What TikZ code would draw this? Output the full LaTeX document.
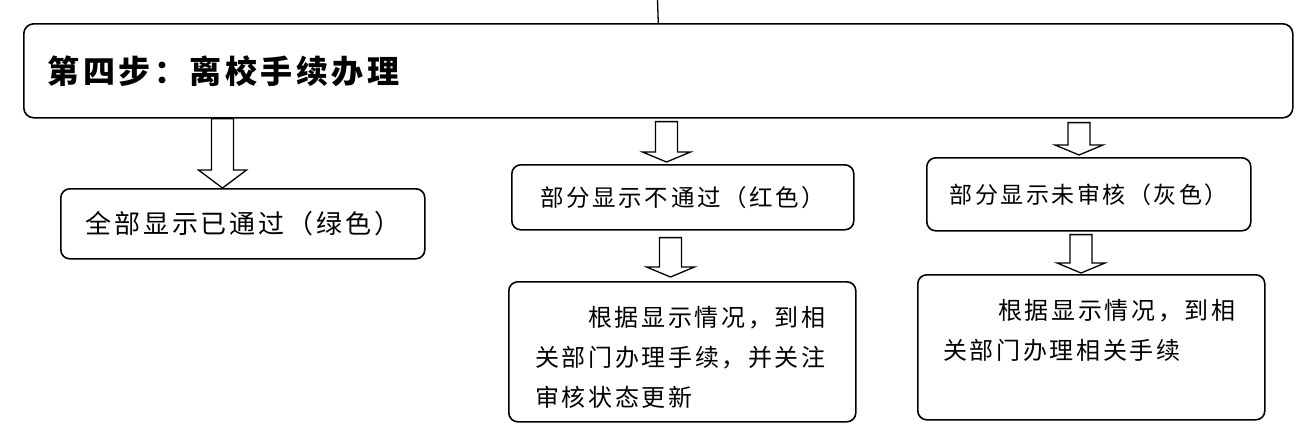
\documentclass[tikz,border=0pt]{standalone}
\usepackage{fontspec}
\newfontfamily\cjk[LetterSpace=11]{Noto Sans CJK SC}
\usepackage{tikz}
\usetikzlibrary{calc,positioning}
\tikzset{
  stepbox/.style={draw, line width=1.6pt, rounded corners=10pt, inner sep=0pt,
  align=left, font=\cjk\bfseries\fontsize{32}{36}\selectfont},
  panel/.style={draw, line width=1.6pt, rounded corners=9pt, inner sep=0pt,
  anchor=north west},
  note/.style={align=left, inner sep=0pt, anchor=north west,
  font=\cjk\fontsize{24}{40}\selectfont},
  hollow/.style={draw, line width=1.3pt, fill=white, line join=miter}
}
\newcommand{\blockdown}[3][10pt]{%
  \draw[hollow] let \p1=#2, \p2=#3 in
    (\x1-11pt,\y1) -- (\x1+11pt,\y1) -- (\x1+11pt,\y2+#1) -- (\x1+24pt,\y2+#1)
    -- (\x1,\y2) -- (\x1-24pt,\y2+#1) -- (\x1-11pt,\y2+#1) -- cycle;}
\begin{document}
\begin{tikzpicture}[x=1pt,y=-1pt]
\useasboundingbox (0,0) rectangle (1310,445);
% step box and results
\node[stepbox, anchor=north west, minimum width=1269, minimum height=94,
  text width=1221] (step) at (23,23) {第四步：离校手续办理};
\node[panel, minimum width=364, minimum height=70,
  font=\cjk\fontsize{26}{30}\selectfont] (all) at (60,188) {全部显示已通过（绿色）};
\node[panel, minimum width=342, minimum height=65,
  font=\cjk\fontsize{23.5}{28}\selectfont] (fail) at (511,164) {部分显示不通过（红色）};
\node[panel, minimum width=324, minimum height=73,
  font=\cjk\fontsize{23}{28}\selectfont] (pending) at (926,157) {部分显示未审核（灰色）};
\node[panel, minimum width=347, minimum height=140] (fix) at (508,281) {};
\node[panel, minimum width=347, minimum height=145] (follow) at (917,274) {};
\node[note] (fixnote) at ($(fix.north west)+(27,25)$)
  {\hspace*{53pt}根据显示情况，到相\\关部门办理手续，并关注\\审核状态更新};
\node[note] (follownote) at ($(follow.north west)+(26,25)$)
  {\hspace*{55pt}根据显示情况，到相\\关部门办理相关手续};
% connectors
\coordinate (entry) at (657.5,0);
\draw[line width=1.3pt] (entry) -- (step.north);
\blockdown[18pt]{($(step.south west)+(199.5,0)$)}{($(all.north west)+(162.5,0)$)}
\blockdown{($(step.south west)+(643.5,3)$)}{($(fail.north west)+(155.5,-2)$)}
\blockdown{($(fail.south west)+(159.5,7)$)}{($(fix.north west)+(162.5,-4)$)}
\blockdown{($(step.south west)+(1056,4)$)}{($(pending.north west)+(153,-2)$)}
\blockdown{($(pending.south west)+(155,3)$)}{($(follow.north west)+(164,-1)$)}
\end{tikzpicture}
\end{document}
